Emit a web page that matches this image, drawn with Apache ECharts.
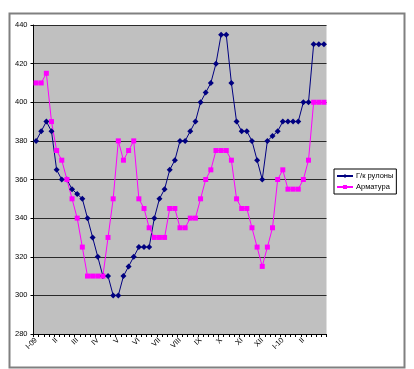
<!DOCTYPE html>
<html>
<head>
<meta charset="utf-8">
<script src="https://cdn.jsdelivr.net/npm/echarts@6/dist/echarts.min.js"></script>
<style>
html,body{margin:0;padding:0;background:#fff;}
#chart{width:414px;height:369px;}
</style>
</head>
<body>
<div id="chart"></div>
<script>
// Month tick labels (one every 4 weekly points)
var monthLabels = ['I-09','II','III','IV','V','VI','VII','VIII','IX','X','XI','XII','I-10','II'];
// Series names
var seriesNames = ['Г/к рулоны', 'Арматура'];
// Weekly values
var rolls = [380,385,390,385,365,360,360,355,352.5,350,340,330,320,310,310,300,300,310,315,320,325,325,325,340,350,355,365,370,380,380,385,390,400,405,410,420,435,435,410,390,385,385,380,370,360,380,382.5,385,390,390,390,390,400,400,430,430,430];
var rebar = [410,410,415,390,375,370,360,350,340,325,310,310,310,310,330,350,380,370,375,380,350,345,335,330,330,330,345,345,335,335,340,340,350,360,365,375,375,375,370,350,345,345,335,325,315,325,335,360,365,355,355,355,360,370,400,400,400];
// Category axis (one per week)
var weeks = [];
for (var i = 0; i < rolls.length; i++) weeks.push('w' + (i + 1));

var chart = echarts.init(document.getElementById('chart'), null, {renderer: 'canvas'});
var font = 'Liberation Sans, Arial, sans-serif';
chart.setOption({
  animation: false,
  backgroundColor: '#ffffff',
  textStyle: {fontFamily: font},
  graphic: [{
    type: 'rect', left: 7, top: 11, z: -1,
    shape: {width: 395, height: 354},
    style: {fill: 'none', stroke: '#808080', lineWidth: 2}
  }],
  grid: {
    left: 33.5, right: 87.5, top: 25, bottom: 35,
    show: true, backgroundColor: '#C0C0C0', borderWidth: 0
  },
  legend: {
    orient: 'vertical',
    left: 334, top: 169,
    width: 60,
    padding: [3, 3, 3, 2],
    itemGap: 3,
    itemWidth: 16, itemHeight: 5,
    borderColor: '#000', borderWidth: 1,
    backgroundColor: '#fff',
    textStyle: {fontSize: 7.5, fontFamily: font, color: '#000', padding: [0, 0, 0, -2]},
    data: seriesNames
  },
  xAxis: {
    type: 'category',
    data: weeks,
    boundaryGap: true,
    axisLine: {lineStyle: {color: '#000', width: 1}},
    axisTick: {show: true, interval: 0, length: 3, lineStyle: {color: '#000'}},
    axisLabel: {
      interval: 3, rotate: 45, fontSize: 7.5, color: '#000', margin: 5, fontFamily: font,
      formatter: function (v, idx) { return idx % 4 === 0 ? monthLabels[idx / 4] : ''; }
    },
    splitLine: {show: false}
  },
  yAxis: {
    type: 'value',
    min: 280, max: 440, interval: 20,
    axisLine: {show: true, lineStyle: {color: '#000', width: 1}},
    axisTick: {show: true, length: 3, lineStyle: {color: '#000'}},
    axisLabel: {fontSize: 7.5, color: '#000', margin: 6, fontFamily: font},
    splitLine: {show: true, lineStyle: {color: '#2a2a2a', width: 1}}
  },
  series: [{
    name: seriesNames[0],
    type: 'line',
    data: rolls,
    color: '#000080',
    symbol: 'diamond', symbolSize: 6, showAllSymbol: true,
    lineStyle: {width: 1, color: '#000080'},
    itemStyle: {color: '#000080'}
  }, {
    name: seriesNames[1],
    type: 'line',
    data: rebar,
    color: '#FF00FF',
    symbol: 'rect', symbolSize: 5, showAllSymbol: true,
    lineStyle: {width: 1, color: '#FF00FF'},
    itemStyle: {color: '#FF00FF'}
  }]
});
</script>
</body>
</html>
